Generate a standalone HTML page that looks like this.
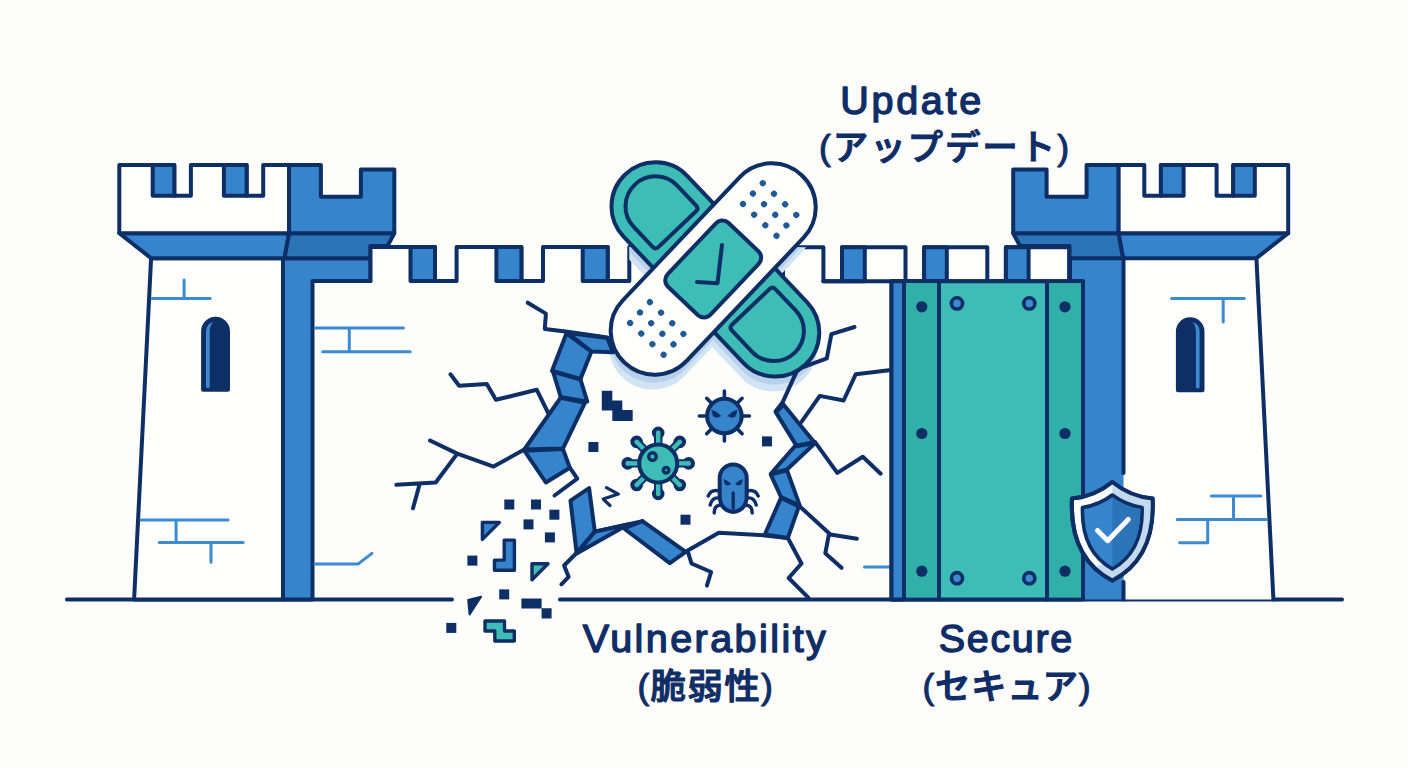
<!DOCTYPE html>
<html lang="ja">
<head>
<meta charset="utf-8">
<title>Vulnerability / Update / Secure</title>
<style>
html,body{margin:0;padding:0;background:#fdfdfb;}
body{width:1408px;height:768px;overflow:hidden;}
svg{display:block;}
.o{stroke:#0e2e66;stroke-width:4;stroke-linejoin:round;stroke-linecap:round;}
.w{fill:#fefefd;}
.b{fill:#3684cb;}
.d{fill:#2c74b8;}
.t{fill:#3dbdb6;}
.n{fill:#0e2e66;}
.l{fill:none;stroke:#0e2e66;stroke-width:4;stroke-linejoin:round;stroke-linecap:round;}
.m{fill:none;stroke:#3c8ad0;stroke-width:3;stroke-linejoin:round;stroke-linecap:round;}
.lat{font-family:"Liberation Sans",sans-serif;font-weight:400;font-size:39.5px;fill:#0f2d66;stroke:#0f2d66;stroke-width:1.4;stroke-linejoin:round;stroke-linecap:round;}
.jp{font-family:"Liberation Sans","Noto Sans CJK JP",sans-serif;font-weight:500;font-size:35.5px;fill:#0f2d66;stroke:#0f2d66;stroke-width:1.1;stroke-linejoin:round;}
</style>
</head>
<body>
<svg width="1408" height="768" viewBox="0 0 1408 768">
<rect width="1408" height="768" fill="#fdfdfb"/>

<!-- ============ GROUND ============ -->
<g id="ground">
<path class="l" d="M67,599.5H452M560,599.5H1342"/>
</g>

<!-- ============ LEFT TOWER ============ -->
<g id="ltower">
<!-- body -->
<path class="o w" d="M151.1,258.2H283V599.5H134.1Z"/>
<!-- pillar L-shape -->
<path class="o b" d="M283,258.2H370.5V281H312.5V599.5H283Z"/>
<!-- corbel -->
<path class="o b" d="M119.3,233.2H289.1L284.5,258.2H151.1Z"/>
<path class="o d" d="M289.1,233.2H394.3L387.5,246H370.5V258.2H284.5Z"/>
<!-- top block white -->
<path class="o w" d="M119.3,165H174.3V195.7H190.9V165H246.6V195.7H263.2V165H289.1V233.2H119.3Z"/>
<rect class="o b" x="152.7" y="165" width="21.6" height="30.7"/>
<rect class="o b" x="223.9" y="165" width="22.7" height="30.7"/>
<!-- top block blue -->
<path class="o b" d="M289.1,165H320.9V196.8H360.9V169.5H394.3V233.2H289.1Z"/>
<!-- window -->
<path class="o n" d="M203.1,389.8V331.3A12.45,12.45 0 0 1 228,331.3V389.8Z"/>
<path d="M206,387.800V332Q206,323.500 213.500,322Q209.700,325 209.700,332V387.800Z" fill="#3c8ad0"/>
<!-- brick marks -->
<path class="m" d="M184.1,280V298.4M152,298.4H210.2"/>
<path class="m" d="M141,519.9H228M176.1,519.9V542.5M159.2,542.5H243.2M211,542.5V562.2"/>
</g>

<!-- ============ RIGHT TOWER ============ -->
<g id="rtower">
<path class="w" d="M1256.4,258.2H1124.5V599.5H1273.4Z"/>
<path class="l" d="M1256.4,258.2L1273.4,599.5"/>
<path class="b" d="M1123.5,258.2H1070V281H1083.5V599.5H1123.5Z"/>
<path class="l" d="M1123.5,258.2V473M1123.5,582V599.5M1070,258.2V281"/>
<path class="o b" d="M1288.2,233.2H1118.4L1123,258.2H1256.4Z"/>
<path class="o d" d="M1118.4,233.2H1013.2L1020,246H1069.5V258.2H1123Z"/>
<path class="o w" d="M1288.2,165H1233.2V195.7H1216.6V165H1160.9V195.7H1144.3V165H1118.4V233.2H1288.2Z"/>
<rect class="o b" x="1233.2" y="165" width="21.6" height="30.7"/>
<rect class="o b" x="1160.9" y="165" width="22.7" height="30.7"/>
<path class="o b" d="M1118.4,165H1086.6V196.8H1046.6V169.5H1013.2V233.2H1118.4Z"/>
<path class="o n" d="M1177.9,390.3V331.5A12.3,12.3 0 0 1 1202.5,331.5V390.3Z"/>
<path d="M1199.600,388.300V332Q1199.600,323.500 1192.200,322Q1195.900,325 1195.900,332V388.300Z" fill="#3c8ad0"/>
<path class="m" d="M1171.6,298.5H1244.3M1223.2,298.5V322"/>
<path class="m" d="M1211.5,496H1260.8M1233.5,496V519.4M1177.3,519.4H1266.4M1207.7,519.4V542.8M1179.6,542.8H1207.7"/>
</g>

<!-- ============ WALL ============ -->
<g id="wall">
<!-- left crenellation -->
<path class="o w" d="M370.5,281V247H435V281H456.6V247H521.4V281H543V247H607.7V281H629.3V247H694V281"/>
<rect class="o b" x="410.5" y="247" width="24.5" height="34"/>
<rect class="o b" x="496.4" y="247" width="25" height="34"/>
<rect class="o b" x="582.7" y="247" width="25" height="34"/>
<rect class="o b" x="669" y="247" width="25" height="34"/>
<!-- right crenellation -->
<path class="o w" d="M760.2,281V247.3H823.4V281.2H842V247.3H905.5V281.2H924.1V247.3H987.3V281.2H1005.9V247.3H1069.1V281.2"/>
<rect class="o b" x="760.2" y="247.3" width="22.8" height="33.9"/>
<rect class="o b" x="842" y="247.3" width="22.8" height="33.9"/>
<rect class="o b" x="924.1" y="247.3" width="22.7" height="33.9"/>
<rect class="o b" x="1005.9" y="247.3" width="22.7" height="33.9"/>
<path class="l" d="M823.4,281.2H1083"/>
<!-- wall brick marks -->
<path class="m" d="M315,328H403.4M349.3,328V351.8M322.7,351.8H410.2"/>
<path class="m" d="M315,563.9H358.3L371.9,553.4"/>
<path class="m" d="M864.5,566.9H889"/>
</g>

<!-- ============ DOOR ============ -->
<g id="door">
<rect class="o t" x="891.5" y="281.2" width="191.5" height="318.3"/>
<rect class="o b" x="891.5" y="281.2" width="12.5" height="318.3"/>
<rect x="906" y="283.2" width="31" height="314" fill="#31b0aa"/>
<rect x="1049" y="283.2" width="32" height="314" fill="#31b0aa"/>
<path class="l" d="M939,281.2V599.5M1047,281.2V599.5"/>
<g class="n">
<circle cx="921.8" cy="306.8" r="5.6"/><circle cx="1065" cy="306.8" r="5.6"/>
<circle cx="921.8" cy="433.5" r="5.6"/><circle cx="1065" cy="433.5" r="5.6"/>
<circle cx="921.8" cy="571.2" r="5.6"/><circle cx="1065" cy="571.2" r="5.6"/>
</g>
<g fill="#3c8ad0" stroke="#0e2e66" stroke-width="3.6">
<circle cx="957" cy="303.4" r="5.6"/><circle cx="1029.3" cy="303.4" r="5.6"/>
<circle cx="957" cy="578.2" r="5.6"/><circle cx="1029.3" cy="578.2" r="5.6"/>
</g>
</g>

<!-- ============ BANDAGE SHADOW ============ -->
<g id="shadow">
<defs><clipPath id="wallclip"><path d="M312.5,281H370.5V247H435V281H456.6V247H521.4V281H543V247H607.7V281H629.3V247H694V281H760.2V247.3H823.4V281.2H842V247.3H891V600H312.5Z"/></clipPath></defs>
<g clip-path="url(#wallclip)">
<g fill="#d2e3f3" transform="translate(-2,15)">
<rect x="-129" y="-44" width="262" height="88" rx="44" transform="translate(714,268) rotate(46.5)"/>
<rect x="-129" y="-44" width="258" height="88" rx="44" transform="translate(713.2,269) rotate(-46.5)"/>
</g>
<g fill="#b7d1ea" transform="translate(-1,8)">
<rect x="-129" y="-44" width="262" height="88" rx="44" transform="translate(714,268) rotate(46.5)"/>
<rect x="-129" y="-44" width="258" height="88" rx="44" transform="translate(713.2,269) rotate(-46.5)"/>
</g>
</g>
</g>

<!-- ============ HOLE ============ -->
<g id="hole">
<!-- cracks -->
<path class="l" d="M527.7,302.7L545.9,313.6L544.8,328.9L567.5,331.8L607.3,337.5"/>
<path class="l" d="M450.5,374.3L459.1,385.7L486.8,384.1L495.9,399.8L536.8,389.8L548.2,413"/>
<path class="l" d="M430,440.5L457.3,453.6L493.6,466.6L524.3,449.5M457.3,453.6L435.7,482.5L396.4,484.8M419.8,483.6L413,508.2"/>
<path class="l" d="M569.8,467.7L577.3,478.6L554.5,495.5"/>
<path class="l" d="M576.6,553L564.1,565.5L568.6,576.8L561.4,584.3"/>
<path class="l" d="M594.8,531.8L642.5,521.1"/>
<path class="l" d="M685.6,551.8L718.8,532.8L764.8,535.4L787.8,538L801.5,563.5L788.7,578L808.3,597.6"/>
<path class="l" d="M688.1,552.4L691.5,563.5L711.1,572L706.9,585.7"/>
<path class="l" d="M799.8,506.4L830.4,534.5L856.9,538.8M828.7,535.4L825.3,553.3L841.5,567.8"/>
<path class="l" d="M854.5,327L831.4,334.1L826.8,358.4L797.7,369.1L782.7,402.2L775.5,411.5"/>
<path class="l" d="M889.1,370.2L855.7,374.3L843.6,400.5L819.8,395.9L801.5,421.8"/>
<path class="l" d="M815.1,442.2L837.3,472.9L862.8,456.7L880.7,473.7"/>
<!-- left blue edge pieces -->
<path class="o b" d="M567.5,332.7L607.3,338L613,352.3L591.4,351.6Z"/>
<path class="o b" d="M566.4,333.4L591.4,351.6L580.5,378.9L552,371Z"/>
<path class="o b" d="M553,371.5L580.5,379.5L587.3,401.6L560.7,397Z"/>
<path class="o b" d="M560.7,397.7L585,402.7L563,448.4L524.3,449.5Z"/>
<path class="o b" d="M524.3,450.7L563,449.1L569.8,467.7L545.9,482.5Z"/>
<!-- bottom-left blue pieces -->
<path class="o b" d="M570.5,500.7L589.1,488.2L594.8,531.4L576.6,553Z"/>
<path class="o b" d="M594.8,531.8L628,524.4L576.6,553.6Z"/>
<path class="o b" d="M624,528.5L642.5,521.1L685.7,551.8L669.8,563.2Z"/>
<!-- right blue edge pieces -->
<path class="o b" d="M775.9,412.4L783.6,404.7L814.3,442.2L796.4,445.6Z"/>
<path class="o b" d="M794.6,446.5L815.1,443.1L787,469.5L770.8,473.7Z"/>
<path class="o b" d="M770.8,474.6L787,470.3L799.8,505.6L781,497Z"/>
<path class="o b" d="M781,497.9L798.9,506.4L787.8,538L764.8,534.5Z"/>
<!-- pixel debris -->
<g class="n">
<path d="M601.8,390.7H612.3V400.5H622.3V410H632.7V420.9H612.3V410.4H601.8Z"/>
<rect x="588.4" y="442" width="10" height="10"/>
<rect x="762" y="436.4" width="10" height="10"/>
<rect x="680.5" y="514.7" width="10" height="10"/>
<rect x="504.3" y="499.5" width="10" height="10"/>
<rect x="531" y="499.5" width="10" height="10"/>
<rect x="549.4" y="509.7" width="10" height="10"/>
<rect x="523.5" y="519.4" width="10" height="10"/>
<rect x="544.9" y="532.4" width="10" height="10"/>
<rect x="467.4" y="555.6" width="10" height="10"/>
<rect x="499.2" y="589.4" width="10" height="10"/>
<rect x="446.3" y="622.9" width="10" height="10"/>
<path d="M521.4,598.6H541.6V608.2H551.6V618.4H541.6V608.6H521.4Z"/>
<path d="M468.2,600L481.1,596.8L469.6,614.5Z" stroke="#0e2e66" stroke-width="2" stroke-linejoin="round"/>
</g>
<path d="M482.4,522.4H499.4L482.4,539.400Z" class="b" stroke="#0e2e66" stroke-width="3.4" stroke-linejoin="round"/>
<path d="M504.2,540.1H514.4V570.3H494.5V560.1H504.2Z" class="b" stroke="#0e2e66" stroke-width="3.4" stroke-linejoin="round"/>
<path d="M532,563.8H548L532,579.8Z" class="t" stroke="#0e2e66" stroke-width="3.4" stroke-linejoin="round"/>
<path d="M485,621H504.5V631H514.3V641H494.8V631H485Z" class="t" stroke="#0e2e66" stroke-width="3.4" stroke-linejoin="round"/>
<path class="l" style="stroke-width:3.2" d="M606.4,487.7L618.4,494.1L603.2,499.1L610,505.5"/>
</g>

<!-- ============ BUGS ============ -->
<g id="bugs">
<!-- blue virus -->
<g transform="translate(724.4,416)">
<path class="l" style="stroke-width:3.6" d="M0,-25V25M-25,0H25M-17.700,-17.700L17.700,17.700M-17.700,17.700L17.700,-17.700"/>
<circle class="o b" r="17.3"/>
<path class="n" d="M-13,-6.5Q-7,-4.5 -3,0Q-7,3 -10.5,1Q-12.500,-1.500 -13,-6.500Z"/>
<path class="n" d="M13,-6.5Q7,-4.5 3,0Q7,3 10.5,1Q12.500,-1.500 13,-6.500Z"/>
</g>
<!-- teal virus -->
<g transform="translate(658.2,463.4)">
<g class="o t">
<path d="M-2.200,0V-29.500H2.200V0Z" /><circle cy="-30.500" r="4.300"/>
<g transform="rotate(45)"><path d="M-2.200,0V-29.500H2.200V0Z"/><circle cy="-30.500" r="4.300"/></g>
<g transform="rotate(90)"><path d="M-2.200,0V-29.500H2.200V0Z"/><circle cy="-30.500" r="4.300"/></g>
<g transform="rotate(135)"><path d="M-2.200,0V-29.500H2.200V0Z"/><circle cy="-30.500" r="4.300"/></g>
<g transform="rotate(180)"><path d="M-2.200,0V-29.500H2.200V0Z"/><circle cy="-30.500" r="4.300"/></g>
<g transform="rotate(225)"><path d="M-2.200,0V-29.500H2.200V0Z"/><circle cy="-30.500" r="4.300"/></g>
<g transform="rotate(270)"><path d="M-2.200,0V-29.500H2.200V0Z"/><circle cy="-30.500" r="4.300"/></g>
<g transform="rotate(315)"><path d="M-2.200,0V-29.500H2.200V0Z"/><circle cy="-30.500" r="4.300"/></g>
</g>
<g class="t">
<rect x="-2.200" y="-31" width="4.400" height="31"/><rect x="-2.200" y="-31" width="4.400" height="31" transform="rotate(45)"/>
<rect x="-2.200" y="-31" width="4.400" height="31" transform="rotate(90)"/><rect x="-2.200" y="-31" width="4.400" height="31" transform="rotate(135)"/>
<rect x="-2.200" y="-31" width="4.400" height="31" transform="rotate(180)"/><rect x="-2.200" y="-31" width="4.400" height="31" transform="rotate(225)"/>
<rect x="-2.200" y="-31" width="4.400" height="31" transform="rotate(270)"/><rect x="-2.200" y="-31" width="4.400" height="31" transform="rotate(315)"/>
</g>
<circle class="o t" r="19"/>
<circle class="o t" style="stroke-width:3.4" cx="-5.700" cy="-6.800" r="3.800"/>
<circle class="o t" style="stroke-width:3.400" cx="7.900" cy="6.800" r="2.800"/>
</g>
<!-- tick -->
<g transform="translate(733.2,488)">
<path class="l" style="stroke-width:3.4" d="M-14,3Q-22,1 -25,8M-14,10Q-21,9 -23,17M-12,17Q-19,17 -19,25M14,3Q22,1 25,8M14,10Q21,9 23,17M12,17Q19,17 19,25"/>
<path class="o b" d="M-13.500,-10A13.500,13.500 0 0 1 13.500,-10V8Q13.500,22 0,24Q-13.500,22 -13.500,8Z"/>
<path class="l" style="stroke-width:3.4" d="M0,5V20"/>
<path class="n" d="M-9.500,-9Q-5,-7.500 -2,-4Q-5,-1.500 -8,-3.500Q-9.500,-6 -9.500,-9Z"/>
<path class="n" d="M9.500,-9Q5,-7.500 2,-4Q5,-1.500 8,-3.500Q9.500,-6 9.500,-9Z"/>
</g>
</g>
<!-- ============ BANDAGE ============ -->
<g id="bandage">
<!-- teal bandage -->
<g transform="translate(714,268) rotate(46.5)">
<rect class="o t" x="-129" y="-44" width="262" height="88" rx="44"/>
<path class="o t" d="M57.500,-30H87A30,30 0 0 1 87,30H57.500Q53.500,30 53.500,26V-26Q53.500,-30 57.500,-30Z"/>
<path class="o t" d="M-57.500,-30H-85A30,30 0 0 0 -85,30H-57.500Q-53.500,30 -53.500,26V-26Q-53.500,-30 -57.500,-30Z"/>
</g>
<!-- white bandage -->
<g transform="translate(713.2,269) rotate(-46.5)">
<rect class="o w" x="-129" y="-44" width="258" height="88" rx="44"/>
<rect class="o t" x="-44" y="-29.500" width="88" height="59" rx="9"/>
<g fill="#1f5a96"><circle cx="67.6" cy="-23.1" r="3.1"/><circle cx="67.6" cy="-7.7" r="3.1"/><circle cx="67.6" cy="7.7" r="3.1"/><circle cx="67.6" cy="23.1" r="3.1"/><circle cx="82.0" cy="-23.1" r="3.1"/><circle cx="82.0" cy="-7.7" r="3.1"/><circle cx="82.0" cy="7.7" r="3.1"/><circle cx="82.0" cy="23.1" r="3.1"/><circle cx="96.4" cy="-23.1" r="3.1"/><circle cx="96.4" cy="-7.7" r="3.1"/><circle cx="96.4" cy="7.7" r="3.1"/><circle cx="96.4" cy="23.1" r="3.1"/><circle cx="-67.6" cy="-23.1" r="3.1"/><circle cx="-67.6" cy="-7.7" r="3.1"/><circle cx="-67.6" cy="7.7" r="3.1"/><circle cx="-67.6" cy="23.1" r="3.1"/><circle cx="-82.0" cy="-23.1" r="3.1"/><circle cx="-82.0" cy="-7.7" r="3.1"/><circle cx="-82.0" cy="7.7" r="3.1"/><circle cx="-82.0" cy="23.1" r="3.1"/><circle cx="-96.4" cy="-23.1" r="3.1"/><circle cx="-96.4" cy="-7.7" r="3.1"/><circle cx="-96.4" cy="7.7" r="3.1"/><circle cx="-96.4" cy="23.1" r="3.1"/></g>
</g>
<path class="l" d="M697,282L717.500,283.200L722,245"/>
</g>
<!-- ============ SHIELD ============ -->
<g id="shield">
<path class="o" fill="#fafcfd" d="M1112.3,482C1100,492 1086,497.5 1072,498.5C1070,540 1084,566 1112.3,580.5C1140.6,566 1154.6,540 1152.6,498.5C1138.6,497.5 1124.6,492 1112.3,482Z"/>
<path fill="#c3d9ee" d="M1112.3,482C1124.6,492 1138.6,497.5 1152.6,498.5C1154.6,540 1140.6,566 1112.3,580.5C1105,577 1099,572.5 1094,567.500L1112.300,560Z"/>
<path class="l" d="M1112.3,482C1100,492 1086,497.5 1072,498.5C1070,540 1084,566 1112.3,580.5C1140.6,566 1154.6,540 1152.6,498.5C1138.6,497.5 1124.6,492 1112.3,482Z"/>
<path class="o b" style="stroke-width:3.6" d="M1112.3,495C1103,502 1093,506 1082.5,507.5C1081.5,538 1092,557.5 1112.3,569C1132.6,557.5 1143.1,538 1142.1,507.5C1131.6,506 1121.6,502 1112.3,495Z"/>
<path fill="#2c74b8" d="M1112.3,497.5C1121,503.5 1130.6,507.5 1140.2,509C1140.8,537 1131,555.5 1112.3,566.7Z"/>
<path fill="none" stroke="#fdfdfd" stroke-width="5" stroke-linecap="round" stroke-linejoin="round" d="M1097.5,530.5L1107.7,540.7L1128.2,519.5"/>
</g>

<!-- ============ TEXT ============ -->
<g id="labels">
<text class="lat" x="910.7" y="114" text-anchor="middle" textLength="141" lengthAdjust="spacing">Update</text>
<text class="jp" x="944" y="160.300" text-anchor="middle" textLength="250" lengthAdjust="spacing">(アップデート)</text>
<text class="lat" x="704.3" y="651.700" text-anchor="middle" textLength="243" lengthAdjust="spacing">Vulnerability</text>
<text class="jp" x="705.200" y="699" text-anchor="middle" textLength="135.500" lengthAdjust="spacing">(脆弱性)</text>
<text class="lat" x="1005.500" y="651.700" text-anchor="middle" textLength="133.500" lengthAdjust="spacing">Secure</text>
<text class="jp" x="1006.500" y="699" text-anchor="middle" textLength="168" lengthAdjust="spacing">(セキュア)</text>
</g>
</svg>
</body>
</html>
